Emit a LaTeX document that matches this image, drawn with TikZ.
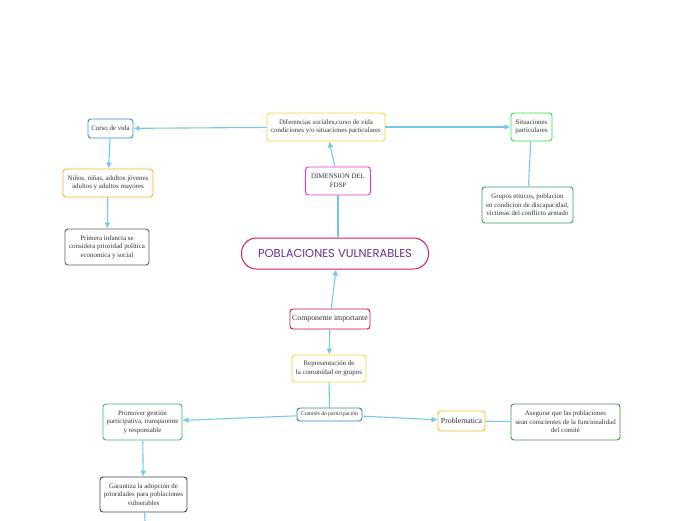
\documentclass[tikz,border=0pt]{standalone}
\usepackage{fontspec}
\setmainfont{Liberation Serif}
\newfontfamily\titlefont{Poppins}
\usepackage{xcolor}
\usetikzlibrary{arrows.meta,positioning}
\definecolor{mmline}{RGB}{115,198,236}
\definecolor{mmblue}{RGB}{58,143,217}
\definecolor{mmyellow}{RGB}{245,211,59}
\definecolor{mmlime}{RGB}{46,225,60}
\definecolor{mmorange}{RGB}{245,179,37}
\definecolor{mmbrown}{RGB}{110,92,80}
\definecolor{mmmagenta}{RGB}{232,48,224}
\definecolor{mmgreen}{RGB}{60,154,95}
\definecolor{mmcrimson}{RGB}{224,25,90}
\definecolor{mmred}{RGB}{200,20,60}
\definecolor{mmsteel}{RGB}{47,127,181}
\definecolor{mmmint}{RGB}{60,184,106}
\definecolor{mmgray}{RGB}{68,68,68}
\definecolor{mmgold}{RGB}{240,192,32}
\definecolor{mmfern}{RGB}{58,154,58}
\definecolor{mmpurple}{RGB}{106,44,145}

\begin{document}
\begin{tikzpicture}[
  x=1pt, y=-1pt,
  topic/.style={rounded corners=3pt, line width=0.9pt, fill=white, align=center, font=\fontsize{6.9}{8.6}\selectfont, inner xsep=2pt, inner ysep=2pt, text=black!80},
  bigtopic/.style={topic, font=\fontsize{7.8}{9}\selectfont},
  central/.style={rounded corners=15pt, line width=1pt, draw=mmcrimson, fill=white, minimum width=187pt, minimum height=31pt, font=\titlefont\fontsize{11.5}{13}\selectfont, text=mmpurple},
  link/.style={draw=mmline, line width=1.1pt},
  arr/.style={link, -{Latex[length=6pt,width=6pt]}}
]
\useasboundingbox (0,0) rectangle (696,520);

% tema central
\node[central] (pobl) at (335,253.5) {POBLACIONES VULNERABLES};

% rama superior
\node[topic, draw=mmmagenta, minimum width=65pt, minimum height=28pt] (dim) at (338,181) {DIMENSION DEL\\FDSP};
\node[topic, draw=mmyellow, minimum width=118pt, minimum height=28pt] (dif) at (326,127) {Diferencias sociales,curso de vida\\condiciones y/o situaciones particulares};
\node[topic, draw=mmblue, minimum width=45pt, minimum height=19pt] (curso) at (110.5,128.5) {Curso de vida};
\node[topic, draw=mmorange, minimum width=90pt, minimum height=28pt] (ninos) at (108,183) {Niños, niñas, adultos jóvenes\\adultos y adultos mayores};
\node[topic, draw=mmbrown, minimum width=84pt, minimum height=36pt] (infancia) at (107,247) {Primera infancia se\\considera prioridad política\\economica y social};
\node[topic, draw=mmlime, minimum width=41pt, minimum height=28pt] (situ) at (531.5,127) {Situaciones\\particulares};
\node[topic, draw=mmgreen, minimum width=91pt, minimum height=36pt] (grupos) at (527.5,205) {Grupos etnicos, poblacion\\en condicion de discapacidad,\\victimas del conflicto armado};

% rama inferior
\node[bigtopic, draw=mmred, minimum width=80pt, minimum height=20pt] (comp) at (330,319) {Componente importante};
\node[topic, draw=mmyellow, minimum width=74pt, minimum height=27pt] (repr) at (329,368.5) {Representación de\\la comunidad en grupos};
\node[topic, draw=mmsteel, minimum width=65pt, minimum height=13pt, inner ysep=1pt, font=\fontsize{5.7}{6.5}\selectfont] (comite) at (329.5,414.5) {Comités de participación};
\node[topic, draw=mmmint, minimum width=79pt, minimum height=36pt] (promover) at (142.5,422) {Promover gestión\\participativa, transparente\\y responsable};
\node[topic, draw=mmgray, minimum width=87pt, minimum height=35pt] (garantiza) at (143.5,494.5) {Garantiza la adopción de\\prioridades para poblaciones\\vulnerables};
\node[bigtopic, draw=mmgold, minimum width=47pt, minimum height=20pt] (problem) at (461.5,421) {Problematica};
\node[topic, draw=mmfern, minimum width=109pt, minimum height=36pt] (asegurar) at (565.5,422) {Asegurar que las poblaciones\\sean conscientes de la funcionalidad\\del comité};
\coordinate (salida) at (145,521);

% conectores
\draw[link] (pobl.north -| dim.south) -- (dim);
\draw[arr] (dim) -- (dif);
\draw[arr] (dif) -- (curso);
\draw[arr] (dif) -- (situ);
\draw[arr] (curso) -- (ninos);
\draw[arr] (ninos) -- (infancia);
\draw[link] (situ) -- (grupos);
\draw[arr] (comp) -- (pobl.south -| 336,0);
\draw[arr] (comp) -- (repr);
\draw[link] (repr) -- (comite);
\draw[arr] (comite) -- (promover);
\draw[arr] (comite) -- (problem);
\draw[link] (problem) -- (asegurar);
\draw[arr] (promover) -- (garantiza);
\draw[link] (garantiza) -- (salida);
\end{tikzpicture}
\end{document}
